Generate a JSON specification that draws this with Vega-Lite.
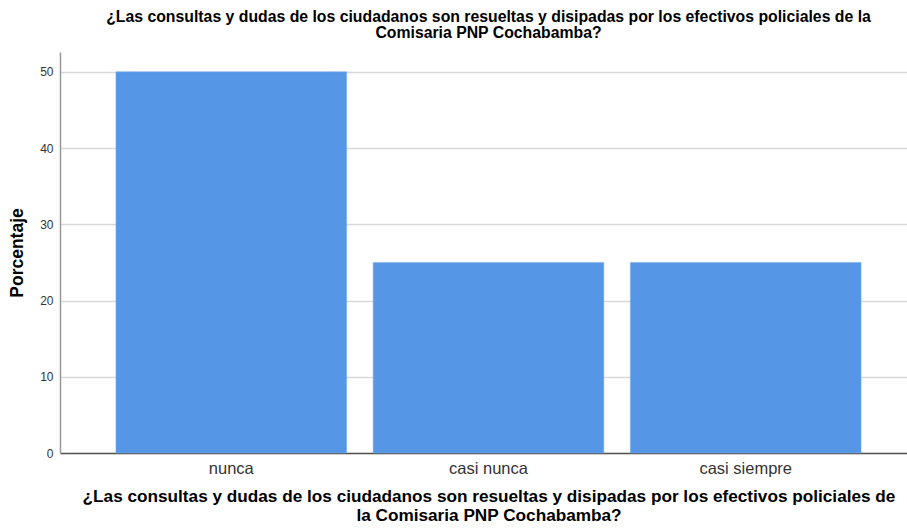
{
  "$schema": "https://vega.github.io/schema/vega-lite/v6.json",
  "width": 857,
  "height": 401,
  "autosize": "none",
  "padding": {"left": 60, "top": 52, "right": 0, "bottom": 77},
  "background": "white",
  "title": {
    "text": ["¿Las consultas y dudas de los ciudadanos son resueltas y disipadas por los efectivos policiales de la", "Comisaria PNP Cochabamba?"],
    "font": "Liberation Sans",
    "fontSize": 15.8,
    "fontWeight": "bold",
    "lineHeight": 16,
    "color": "#000000",
    "anchor": "middle",
    "dx": 0,
    "offset": 10
  },
  "data": {
    "values": [
      {"categoria": "nunca", "porcentaje": 50},
      {"categoria": "casi nunca", "porcentaje": 25},
      {"categoria": "casi siempre", "porcentaje": 25}
    ]
  },
  "mark": {"type": "bar", "color": "#5597e6", "stroke": "#7aaeee", "strokeWidth": 0.5},
  "encoding": {
    "x": {
      "field": "categoria",
      "type": "nominal",
      "sort": ["nunca", "casi nunca", "casi siempre"],
      "scale": {"paddingInner": 0.103, "paddingOuter": 0.2175},
      "axis": {
        "title": ["¿Las consultas y dudas de los ciudadanos son resueltas y disipadas por los efectivos policiales de", "la Comisaria PNP Cochabamba?"],
        "titleFont": "Liberation Sans",
        "titleFontSize": 17.2,
        "titleFontWeight": "bold",
        "titleColor": "#000000",
        "titleLineHeight": 19,
        "titlePadding": 11,
        "labelAngle": 0,
        "labelFont": "Liberation Sans",
        "labelFontSize": 16.5,
        "labelColor": "#333333",
        "labelPadding": 7,
        "ticks": false,
        "domainColor": "#555555",
        "domainWidth": 1.5,
        "grid": false
      }
    },
    "y": {
      "field": "porcentaje",
      "type": "quantitative",
      "scale": {"domain": [0, 52.6], "nice": false},
      "axis": {
        "title": "Porcentaje",
        "titleFont": "Liberation Sans",
        "titleFontSize": 17.5,
        "titleFontWeight": "bold",
        "titleColor": "#000000",
        "titlePadding": 13,
        "values": [0, 10, 20, 30, 40, 50],
        "labelFont": "Liberation Sans",
        "labelFontSize": 12,
        "labelColor": "#333333",
        "labelPadding": 7,
        "ticks": false,
        "domainColor": "#999999",
        "domainWidth": 1.5,
        "grid": true,
        "gridColor": "#d8d8d8",
        "gridWidth": 1.5
      }
    }
  },
  "config": {"view": {"stroke": null}}
}
